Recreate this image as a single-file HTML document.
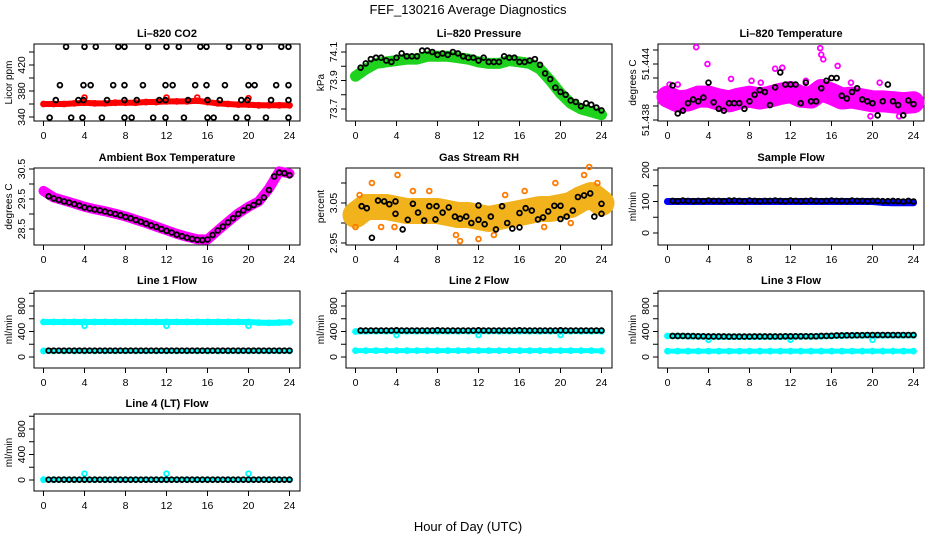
<!DOCTYPE html>
<html><head><meta charset="utf-8"><style>
html,body{margin:0;padding:0;background:#fff;}
svg{display:block;font-family:"Liberation Sans",Arial,sans-serif;}
</style></head><body>
<svg id="chart" width="936" height="540" viewBox="0 0 936 540" xmlns="http://www.w3.org/2000/svg">
<text x="468" y="14" text-anchor="middle" font-size="13">FEF_130216  Average Diagnostics</text>
<text x="468" y="531" text-anchor="middle" font-size="13">Hour of Day (UTC)</text>
</svg>
<script>
const HRS=[0.5,1,1.5,2,2.5,3,3.5,4,4.5,5,5.5,6,6.5,7,7.5,8,8.5,9,9.5,10,10.5,11,11.5,12,12.5,13,13.5,14,14.5,15,15.5,16,16.5,17,17.5,18,18.5,19,19.5,20,20.5,21,21.5,22,22.5,23,23.5,24];
const HOURLY=[0,1,2,3,4,5,6,7,8,9,10,11,12,13,14,15,16,17,18,19,20,21,22,23,24];
const X_TICKS=[0,4,8,12,16,20,24];

// CO2
const co2BlackHrs=[2.2,4.0,5.1,7.3,7.9,10.2,12.0,13.2,15.3,15.9,18.1,20.0,21.1,23.2,23.9,1.6,3.9,4.6,6.8,7.9,9.7,11.9,12.6,14.8,15.9,17.7,20.0,20.6,22.7,23.9,1.2,3.4,3.9,6.2,7.9,9.1,11.3,11.9,14.1,16.0,17.2,19.3,19.9,22.2,23.9,0.6,2.7,3.8,5.7,7.9,8.6,10.7,11.9,13.7,16.0,16.6,18.8,19.9,21.7,23.9];
const co2BlackVals=[448,448,448,448,448,448,448,448,448,448,448,448,448,448,448,389,389,389,389,389,389,389,389,389,389,389,389,389,389,389,366,366,366,366,366,366,366,366,366,366,366,366,366,366,366,339,339,339,339,339,339,339,339,339,339,339,339,339,339,339];
const co2Red=[360,360,360,361,362,361,361,362,362,362,363,363,364,364,364,365,363,361,360,359,359,358,358,358,358];
const co2RedOutHrs=[4,12,15,20];
const co2RedOutVals=[370,370,370,369];

// Pressure
const presBlack=[73.99,74.02,74.05,74.06,74.06,74.04,74.03,74.06,74.09,74.07,74.07,74.07,74.11,74.11,74.1,74.08,74.09,74.08,74.1,74.09,74.07,74.06,74.06,74.04,74.06,74.03,74.03,74.03,74.07,74.06,74.06,74.03,74.03,74.04,74.05,74.01,73.95,73.91,73.85,73.82,73.8,73.76,73.75,73.72,73.74,73.73,73.71,73.69];
const presGreen=[73.93,73.98,74.02,74.03,74.04,74.05,74.05,74.07,74.07,74.07,74.06,74.05,74.03,74.02,74.02,74.04,74.03,74.02,73.98,73.9,73.81,73.74,73.7,73.68,73.66];

// Li-820 Temperature
const tempBlack=[51.4417,51.4387,51.4390,51.4398,51.4402,51.4400,51.4404,51.4420,51.4399,51.4392,51.4390,51.4398,51.4398,51.4398,51.4392,51.4400,51.4407,51.4412,51.4410,51.4396,51.4415,51.4431,51.4418,51.4418,51.4418,51.4398,51.4420,51.4400,51.4400,51.4414,51.4422,51.4425,51.4425,51.4406,51.4403,51.4410,51.4414,51.4402,51.4400,51.4398,51.4385,51.4400,51.4418,51.4400,51.4396,51.4385,51.4401,51.4397];
const tempMag=[51.4405,51.4400,51.4401,51.4405,51.4405,51.4402,51.4400,51.4403,51.4405,51.4403,51.4405,51.4408,51.4410,51.4405,51.4404,51.4412,51.4408,51.4403,51.4404,51.4402,51.4400,51.4400,51.4399,51.4398,51.4399];
const tempOutHrs=[2.8,3.9,10.5,11.2,14.9,15.0,15.2,16.6,1.0,6.2,19.8,22.6,20.7,8.2,9.1,0.2,13.5,17.9];
const tempOutVals=[51.4458,51.4440,51.4435,51.4436,51.4457,51.4450,51.4445,51.4438,51.4418,51.4424,51.4384,51.4384,51.4420,51.4422,51.4420,51.4418,51.4422,51.4420];

// Ambient Box Temperature
const ambBlack=[29.59,29.52,29.47,29.42,29.38,29.33,29.28,29.22,29.18,29.15,29.12,29.08,29.04,29.00,28.96,28.90,28.86,28.80,28.74,28.68,28.62,28.57,28.50,28.44,28.38,28.31,28.26,28.21,28.17,28.14,28.13,28.15,28.30,28.45,28.58,28.72,28.86,29.00,29.12,29.22,29.30,29.40,29.55,29.80,30.25,30.38,30.36,30.29];
const ambMag=[29.77,29.55,29.45,29.35,29.24,29.16,29.09,29.01,28.92,28.81,28.70,28.58,28.46,28.34,28.24,28.16,28.15,28.45,28.74,29.02,29.24,29.42,29.85,30.42,30.35];

// Gas Stream RH
const rhBlackHrs=[0.6,1.1,1.6,2.2,2.8,3.3,3.9,3.9,4.6,5.1,5.6,6.1,6.7,7.2,7.8,7.9,8.5,9.1,9.7,10.2,10.8,11.3,12.0,12.0,12.6,13.2,13.7,14.3,14.8,15.3,16.0,16.0,16.6,17.2,17.8,18.3,18.8,19.4,20.0,20.0,20.6,21.2,21.7,22.3,22.9,23.3,24.0,24.0];
const rhBlackVals=[3.042,3.037,2.963,3.056,3.054,3.047,3.023,3.054,2.984,3.008,3.048,3.026,3.006,3.042,3.009,3.042,3.026,3.039,3.016,3.011,3.016,3.0,3.044,3.008,2.997,3.016,2.984,3.042,3.0,2.986,2.989,3.025,3.037,3.031,3.009,3.014,3.029,3.043,3.043,3.010,3.016,3.031,3.065,3.069,3.074,3.016,3.048,3.023];
const rhCloud=[3.02,3.04,3.04,3.04,3.035,3.03,3.03,3.03,3.03,3.025,3.02,3.02,3.015,3.01,3.015,3.02,3.025,3.03,3.035,3.035,3.04,3.045,3.06,3.07,3.05];
const rhOutHrs=[0,1.6,4.1,3.8,7.2,10.2,12,16.5,19.5,22.8,22.3,18.4,13.5,5.6,0.4,2.5,9.8,14.6,21.0,23.6];
const rhOutVals=[2.99,3.1,3.12,2.99,3.08,2.955,2.96,3.08,3.1,3.14,3.12,2.99,2.97,3.08,3.07,2.99,2.97,3.07,3.0,3.1];

// Sample Flow
const sampBlack=[102,101,103,102,101,102,101,103,102,102,101,103,103,102,101,103,102,101,102,102,103,102,101,103,102,101,102,103,102,101,102,103,102,102,101,103,102,102,101,102,102,101,101,102,101,100,102,100];
const sampBlue=[100,100,100,100,100,100,100,100,100,100,100,100,100,100,100,100,100,100,100,100,100,97,96,96,96];

// Line flows
const l1Black=[100,100,100,100,100,100,100,100,100,100,100,100,100,100,100,100,100,100,100,100,100,100,100,100,100,100,100,100,100,100,100,100,100,100,100,100,100,100,100,100,100,100,100,100,100,100,100,100];
const l1CyanHi=[550,550,550,550,550,550,550,550,550,550,550,550,550,550,550,550,550,550,550,550,550,540,535,540,545];
const l1CyanLo=[95,95,95,95,95,95,95,95,95,95,95,95,95,95,95,95,95,95,95,95,95,95,95,95,95];
const l2Black=[415,415,415,415,415,415,415,418,415,415,415,415,415,415,415,418,415,415,415,415,415,415,415,418,415,415,415,415,415,415,415,418,415,415,415,415,415,415,415,418,415,415,415,415,415,415,415,415];
const l2CyanHi=[400,405,405,405,405,405,405,405,405,405,405,405,405,405,405,405,405,405,405,405,405,405,405,405,405];
const l2CyanLo=[100,100,100,100,100,100,100,100,100,100,100,100,100,100,100,100,100,100,100,100,100,100,100,100,95];
const l3Black=[330,330,330,328,328,325,325,322,322,322,322,320,320,320,320,320,322,322,322,322,322,322,325,325,325,325,325,325,325,330,330,332,338,338,340,340,342,342,345,345,345,345,345,345,345,345,345,345];
const l3CyanHi=[330,330,325,322,318,318,318,318,318,318,318,318,320,322,322,325,330,335,338,340,340,340,340,340,340];
const l3CyanLo=[92,92,92,92,92,92,92,92,92,92,92,92,92,92,92,92,92,92,92,92,92,92,92,92,92];
const l4Black=[5,5,5,5,5,5,5,5,5,5,5,5,5,5,5,5,5,5,5,5,5,5,5,5,5,5,5,5,5,5,5,5,5,5,5,5,5,5,5,5,5,5,5,5,5,5,5,5];
const l4Cyan=[5,5,5,5,5,5,5,5,5,5,5,5,5,5,5,5,5,5,5,5,5,5,5,5,5];
const dipHrs=[4,12,20];
const l1Dips=[490,490,490];
const l2Dips=[345,345,345];
const l3Dips=[270,270,270];
const l4Dips=[100,100,100];

const NS="http://www.w3.org/2000/svg";
const svg=document.getElementById('chart');
const COLL=[34,346,658], ROWT=[44,168,291,414], W=266, H=77;
function mk(tag,attrs,parent){const e=document.createElementNS(NS,tag);for(const k in attrs)e.setAttribute(k,attrs[k]);(parent||svg).appendChild(e);return e;}

function panel(cfg){
  const L=COLL[cfg.col], T=ROWT[cfg.row];
  const g=mk('g',{});
  
  
  const xs=h=>L+9.5+h*10.25;
  const ys=v=>T+cfg.p0+(v-cfg.v0)*(cfg.p1-cfg.p0)/(cfg.v1-cfg.v0);
  const t=mk('text',{x:L+W/2,y:T-7,'text-anchor':'middle','font-size':11,'font-weight':'bold'},g);
  t.textContent=cfg.title;
  
  
  const box=mk('rect',{x:L,y:T,width:W,height:H,fill:'none',stroke:'#000','stroke-width':1},g);
  
  
  const xa=mk('g',{},g);
  
  
  mk('line',{x1:xs(0),x2:xs(24),y1:T+H,y2:T+H,stroke:'#000'},xa);
  X_TICKS.forEach(h=>{
    mk('line',{x1:xs(h),x2:xs(h),y1:T+H,y2:T+H+5,stroke:'#000'},xa);
    const tx=mk('text',{x:xs(h),y:T+H+18,'text-anchor':'middle','font-size':10.5},xa);
    tx.textContent=h;
  });
  const ya=mk('g',{},g);
  
  
  const tk=cfg.ticks;
  mk('line',{x1:L,x2:L,y1:ys(tk[0]),y2:ys(tk[tk.length-1]),stroke:'#000'},ya);
  tk.forEach(v=>mk('line',{x1:L-5,x2:L,y1:ys(v),y2:ys(v),stroke:'#000'},ya));
  cfg.labels.forEach(v=>{
    const tx=mk('text',{x:0,y:0,'text-anchor':'middle','font-size':10.5,transform:`translate(${L-9},${ys(v)}) rotate(-90)`},ya);
    tx.textContent=cfg.fmt?cfg.fmt(v):v;
  });
  const yl=mk('text',{x:0,y:0,'text-anchor':'middle','font-size':10,transform:`translate(${L-22},${T+H/2}) rotate(-90)`},g);
  yl.textContent=cfg.ylab;
  
  
  return {g,xs,ys};
}
function band(p,vals,color,width,name){
  const pts=HOURLY.map((h,i)=>p.xs(h)+','+p.ys(vals[i])).join(' ');
  const pl=mk('polyline',{points:pts,fill:'none',stroke:color,'stroke-width':width,'stroke-linejoin':'round','stroke-linecap':'round'},p.g);
  
  
  HOURLY.forEach((h,i)=>mk('circle',{cx:p.xs(h),cy:p.ys(vals[i]),r:2.6,fill:'none',stroke:color,'stroke-width':1.6},p.g));
}
function pts(p,hrs,vals,color,name,sw){
  const gg=mk('g',{},p.g);
  
  
  hrs.forEach((h,i)=>mk('circle',{cx:p.xs(h),cy:p.ys(vals[i]),r:2.4,fill:'none',stroke:color,'stroke-width':sw||1.8},gg));
}
const flowTicks=[0,200,400,600,800,1000], flowLabs=[0,400,800];

let p=panel({name:'co2',col:0,row:0,title:'Li\u2013820 CO2',ylab:'Licor ppm',v0:340,p0:73,v1:440,p1:8,ticks:[340,360,380,400,420,440],labels:[340,380,420]});
band(p,co2Red,'#ff0000',6,'co2-red-series');
pts(p,co2RedOutHrs,co2RedOutVals,'#ff0000','co2-red-outliers');
pts(p,co2BlackHrs,co2BlackVals,'#000','co2-black-series');

p=panel({name:'pressure',col:1,row:0,title:'Li\u2013820 Pressure',ylab:'kPa',v0:73.7,p0:65,v1:74.1,p1:8,ticks:[73.7,73.8,73.9,74.0,74.1],labels:[73.7,73.9,74.1],fmt:v=>v.toFixed(1)});
band(p,presGreen,'#1ed21e',11,'pressure-green-series');
pts(p,HRS,presBlack,'#000','pressure-black-series');

p=panel({name:'li820-temp',col:2,row:0,title:'Li\u2013820 Temperature',ylab:'degrees C',v0:51.438,p0:76,v1:51.444,p1:20,ticks:[51.438,51.4395,51.441,51.4425,51.444,51.4455],labels:[51.438,51.444],fmt:v=>v.toFixed(3)});
band(p,tempMag,'#ff00ff',22,'li820-temp-magenta-series');
pts(p,tempOutHrs,tempOutVals,'#ff00ff','li820-temp-magenta-outliers');
pts(p,HRS,tempBlack,'#000','li820-temp-black-series');

p=panel({name:'ambient-temp',col:0,row:1,title:'Ambient Box Temperature',ylab:'degrees C',v0:28.5,p0:61,v1:30.5,p1:1,ticks:[28.5,29,29.5,30,30.5],labels:[28.5,29.5,30.5]});
band(p,ambMag,'#ff00ff',10,'ambient-temp-magenta-series');
pts(p,HRS,ambBlack,'#000','ambient-temp-black-series');

p=panel({name:'rh',col:1,row:1,title:'Gas Stream RH',ylab:'percent',v0:2.95,p0:75,v1:3.05,p1:35,ticks:[2.95,3.0,3.05,3.1],labels:[2.95,3.05],fmt:v=>v.toFixed(2)});
band(p,rhCloud,'#f2b21c',26,'rh-orange-series');
pts(p,rhOutHrs,rhOutVals,'#ff7a00','rh-orange-outliers');
pts(p,rhBlackHrs,rhBlackVals,'#000','rh-black-series');

p=panel({name:'sample-flow',col:2,row:1,title:'Sample Flow',ylab:'ml/min',v0:0,p0:65,v1:200,p1:2,ticks:[0,50,100,150,200],labels:[0,100,200]});
band(p,sampBlue,'#0000ff',7,'sample-flow-blue-series');
pts(p,HRS,sampBlack,'#000','sample-flow-black-series');

p=panel({name:'line1-flow',col:0,row:2,title:'Line 1 Flow',ylab:'ml/min',v0:0,p0:66,v1:800,p1:15,ticks:flowTicks,labels:flowLabs});
band(p,l1CyanHi,'#00ffff',6,'line1-cyan-high-series');
band(p,l1CyanLo,'#00ffff',5,'line1-cyan-low-series');
pts(p,dipHrs,l1Dips,'#00ffff','line1-cyan-dips');
pts(p,HRS,l1Black,'#000','line1-black-series');

p=panel({name:'line2-flow',col:1,row:2,title:'Line 2 Flow',ylab:'ml/min',v0:0,p0:66,v1:800,p1:15,ticks:flowTicks,labels:flowLabs});
band(p,l2CyanHi,'#00ffff',6,'line2-cyan-high-series');
band(p,l2CyanLo,'#00ffff',5,'line2-cyan-low-series');
pts(p,dipHrs,l2Dips,'#00ffff','line2-cyan-dips');
pts(p,HRS,l2Black,'#000','line2-black-series');

p=panel({name:'line3-flow',col:2,row:2,title:'Line 3 Flow',ylab:'ml/min',v0:0,p0:66,v1:800,p1:15,ticks:flowTicks,labels:flowLabs});
band(p,l3CyanHi,'#00ffff',6,'line3-cyan-high-series');
band(p,l3CyanLo,'#00ffff',5,'line3-cyan-low-series');
pts(p,dipHrs,l3Dips,'#00ffff','line3-cyan-dips');
pts(p,HRS,l3Black,'#000','line3-black-series');

p=panel({name:'line4-flow',col:0,row:3,title:'Line 4 (LT) Flow',ylab:'ml/min',v0:0,p0:66,v1:800,p1:15,ticks:flowTicks,labels:flowLabs});
band(p,l4Cyan,'#00ffff',5,'line4-cyan-series');
pts(p,dipHrs,l4Dips,'#00ffff','line4-cyan-spikes');
pts(p,HRS,l4Black,'#000','line4-black-series');
</script>
</body></html>
